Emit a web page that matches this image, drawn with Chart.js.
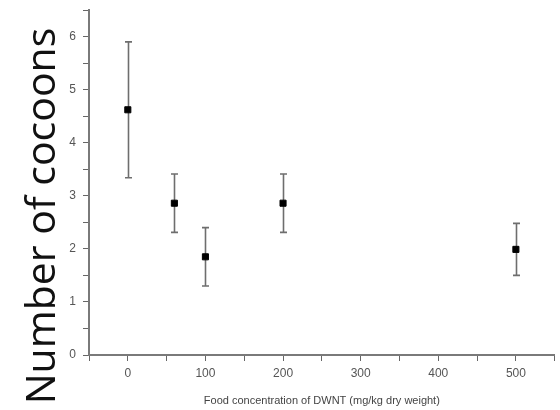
<!DOCTYPE html>
<html>
<head>
<meta charset="utf-8">
<script src="https://cdn.jsdelivr.net/npm/chart.js@4"></script>
<style>
  html, body { margin: 0; padding: 0; background: #fff; }
  #wrap { width: 560px; height: 410px; position: relative; }
</style>
</head>
<body>
<div id="wrap"><canvas id="myChart"></canvas></div>
<script>
// concentrations (mg/kg dry weight)
var concentrations = [0, 60, 100, 200, 500];
// mean number of cocoons
var cocoons = [4.62, 2.86, 1.85, 2.86, 1.99];
// error (+/-)
var errors = [1.28, 0.55, 0.55, 0.55, 0.49];

var xTitle = "Food concentration of DWNT (mg/kg dry weight)";
var yTitle = "Number of cocoons";

var points = concentrations.map(function (c, i) {
    return { x: c, y: cocoons[i] };
});

// draws the vertical error bars with caps
var errorBars = {
    id: 'errorBars',
    beforeDatasetsDraw: function (chart) {
        var ctx = chart.ctx;
        var xs = chart.scales.x, ys = chart.scales.y;
        ctx.save();
        ctx.strokeStyle = '#6e6e6e';
        ctx.lineWidth = 1.6;
        for (var i = 0; i < concentrations.length; i++) {
            var px = Math.round(xs.getPixelForValue(concentrations[i])) + 0.5;
            var top = ys.getPixelForValue(cocoons[i] + errors[i]);
            var bot = ys.getPixelForValue(cocoons[i] - errors[i]);
            ctx.beginPath();
            ctx.moveTo(px, top); ctx.lineTo(px, bot);
            ctx.moveTo(px - 3.5, top); ctx.lineTo(px + 3.5, top);
            ctx.moveTo(px - 3.5, bot); ctx.lineTo(px + 3.5, bot);
            ctx.stroke();
        }
        ctx.restore();
    }
};

// big y axis title, centred on the canvas height rather than the plot
var bigYTitle = {
    id: 'bigYTitle',
    afterDraw: function (chart) {
        var ctx = chart.ctx;
        ctx.save();
        ctx.translate(55, 216);
        ctx.rotate(-Math.PI / 2);
        ctx.font = '41px "Open Sans"';
        ctx.fillStyle = '#111';
        ctx.textAlign = 'center';
        ctx.textBaseline = 'alphabetic';
        ctx.fillText(yTitle, 0, 0);
        ctx.restore();
    }
};

new Chart("myChart", {
    type: "scatter",
    data: {
        datasets: [{
            data: points,
            backgroundColor: '#000',
            borderColor: '#000',
            pointStyle: 'rect',
            pointRadius: 4.3,
            pointHoverRadius: 4.3
        }]
    },
    options: {
        responsive: true,
        maintainAspectRatio: false,
        animation: false,
        layout: { padding: { top: 10, right: 2, left: 0, bottom: 0 } },
        plugins: {
            legend: { display: false },
            tooltip: { enabled: false }
        },
        scales: {
            x: {
                type: 'linear',
                min: -50,
                max: 550,
                afterFit: function (s) { s.height = 55; },
                border: { color: '#7a7a7a', width: 2 },
                grid: {
                    drawOnChartArea: false,
                    drawTicks: true,
                    tickLength: 6,
                    tickColor: '#666'
                },
                ticks: {
                    stepSize: 50,
                    padding: 5,
                    color: '#555',
                    font: { family: '"Liberation Sans", Arial', size: 12 },
                    maxRotation: 0,
                    autoSkip: false,
                    callback: function (v) { return (v >= 0 && v % 100 === 0) ? v : ''; }
                },
                title: {
                    display: true,
                    text: xTitle,
                    color: '#444',
                    font: { family: '"Liberation Sans", Arial', size: 11 },
                    padding: { top: 3, bottom: 2 }
                }
            },
            y: {
                min: 0,
                max: 6.5,
                afterFit: function (s) {
                    s.width = 89;
                    s.paddingTop = 0;
                    s.paddingBottom = 0;
                },
                border: { color: '#7a7a7a', width: 2 },
                grid: {
                    drawOnChartArea: false,
                    drawTicks: true,
                    tickLength: 6,
                    tickColor: '#666'
                },
                ticks: {
                    stepSize: 0.5,
                    padding: 7,
                    color: '#555',
                    font: { family: '"Liberation Sans", Arial', size: 12 },
                    autoSkip: false,
                    callback: function (v) { return Number.isInteger(v) ? v : ''; }
                }
            }
        }
    },
    plugins: [errorBars, bigYTitle]
});
</script>
</body>
</html>
